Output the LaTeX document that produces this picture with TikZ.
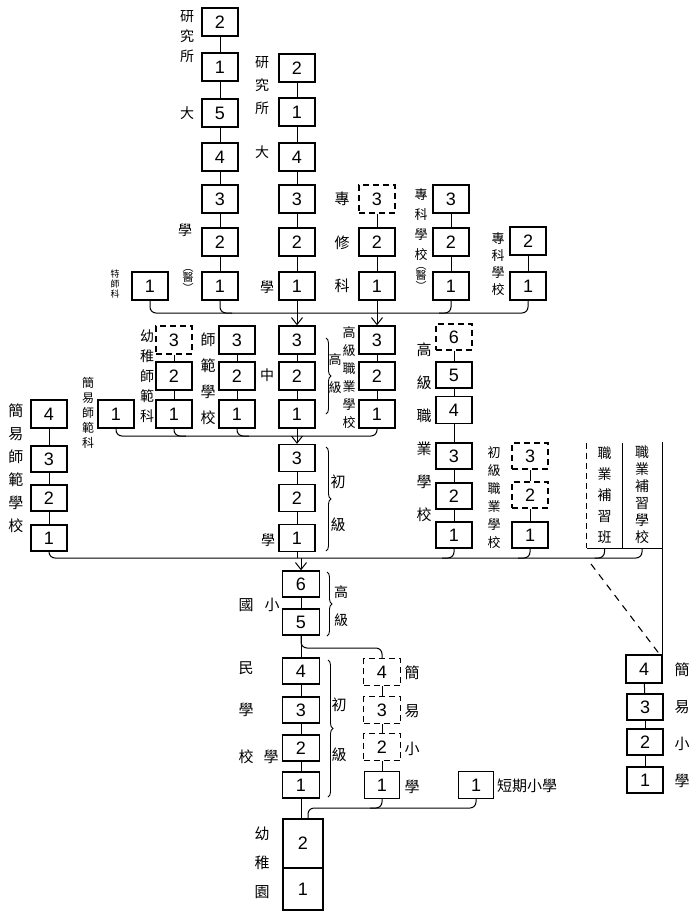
\documentclass[tikz,border=0pt]{standalone}
\usepackage{fontspec}
\setmainfont{Liberation Sans}
\newfontfamily\cjk{Noto Sans CJK TC}
\usetikzlibrary{arrows.meta,decorations.pathreplacing,calc}
\begin{document}
\begin{tikzpicture}[x=1pt,y=-1pt,
  bx/.style={draw, line width=1.3pt, minimum width=36pt, minimum height=28pt, inner sep=0pt, font=\fontsize{18}{18}\selectfont},
  dbx/.style={bx, dash pattern=on 6pt off 4pt},
  ln/.style={line width=1pt, rounded corners=6pt},
  arr/.style={line width=1pt, -{Straight Barb[length=7pt,width=11pt]}},
  lab/.style={font=\cjk\fontsize{#1}{#1}\selectfont, inner sep=0pt},
  vl/.style 2 args={align=center, inner sep=0pt, font=\cjk\fontsize{#1}{#2}\selectfont},
  brc/.style={decorate, decoration={brace, amplitude=5pt}, line width=0.9pt}
]
\useasboundingbox (0,0) rectangle (689,913);

% ---------------- top section ----------------
\node[bx] (ts) at (150,286) {1};
\node[bx] (a7) at (220,22) {2};
\node[bx] (a6) at (220,67) {1};
\node[bx] (a5) at (220,113) {5};
\node[bx] (a4) at (220,157) {4};
\node[bx] (a3) at (220,199) {3};
\node[bx] (a2) at (220,242) {2};
\node[bx] (a1) at (220,286) {1};
\node[bx] (b6) at (297,68) {2};
\node[bx] (b5) at (297,112) {1};
\node[bx] (b4) at (297,157) {4};
\node[bx] (b3) at (297,199) {3};
\node[bx] (b2) at (297,242) {2};
\node[bx] (b1) at (297,286) {1};
\node[dbx] (c3) at (377,199) {3};
\node[bx] (c2) at (377,242) {2};
\node[bx] (c1) at (377,286) {1};
\node[bx] (d3) at (451,199) {3};
\node[bx] (d2) at (451,242) {2};
\node[bx] (d1) at (451,286) {1};
\node[bx] (e2) at (528,241) {2};
\node[bx] (e1) at (528,286) {1};

\foreach \u/\v in {a7/a6,a6/a5,a5/a4,a4/a3,a3/a2,a2/a1,b6/b5,b5/b4,b4/b3,b3/b2,b2/b1,c3/c2,c2/c1,d3/d2,d2/d1,e2/e1}
  \draw[line width=1pt] (\u) -- (\v);

\node[vl={14}{20}] (la1) at (187,37) {研\\究\\所};
\node[lab=14] (la2) at (187,113) {大};
\node[lab=14] (la3) at (185,230) {學};
\node[vl={11}{10}] (la4) at (188,281) {︵\\醫\\︶};
\node[vl={14}{23}] (lb1) at (262,86) {研\\究\\所};
\node[lab=14] (lb2) at (262,152) {大};
\node[lab=14] (lb3) at (267,287) {學};
\node[vl={15}{43.5}] (lc) at (342,242.5) {專\\修\\科};
\node[vl={13}{20}] (ld1) at (421,225) {專\\科\\學\\校};
\node[vl={11}{10}] (ld2) at (421,279) {︵\\醫\\︶};
\node[vl={13}{17}] (le) at (498,264) {專\\科\\學\\校};
\node[vl={9}{10}] (lts) at (115,284) {特\\師\\科};

\coordinate (L1) at (0,313);
\draw[ln] (ts.south) -- (ts.south |- L1) -- (e1.south |- L1) -- (e1.south);
\draw[ln] (a1.south) -- (a1.south |- L1) -- ($(a1.south |- L1)+(12,0)$);
\draw[ln] (d1.south) -- (d1.south |- L1) -- ($(d1.south |- L1)+(-12,0)$);

% ---------------- middle section ----------------
\node[bx] (js) at (116,414) {1};
\node[dbx] (yz3) at (174,340) {3};
\node[bx] (yz2) at (174,376) {2};
\node[bx] (yz1) at (174,414) {1};
\node[bx] (sf3) at (237,340) {3};
\node[bx] (sf2) at (237,376) {2};
\node[bx] (sf1) at (237,414) {1};
\node[bx] (f3) at (297,340) {3};
\node[bx] (f2) at (297,376) {2};
\node[bx] (f1) at (297,414) {1};
\node[bx] (g3) at (377,340) {3};
\node[bx] (g2) at (377,376) {2};
\node[bx] (g1) at (377,414) {1};

\draw[arr] (b1.south) -- (f3.north);
\draw[arr] (c1.south) -- (g3.north);

\foreach \u/\v in {yz3/yz2,yz2/yz1,sf3/sf2,sf2/sf1,f3/f2,f2/f1,g3/g2,g2/g1}
  \draw[line width=1pt] (\u) -- (\v);

\node[vl={12}{15}] (ljs) at (88,413) {簡\\易\\師\\範\\科};
\node[vl={14}{20}] (lyz) at (147,376) {幼\\稚\\師\\範\\科};
\node[vl={15}{26}] (lsf) at (208,379) {師\\範\\學\\校};
\node[lab=14] (lzh) at (267,375) {中};
\draw[brc] (326,338) -- (326,414);
\node[vl={13}{28}] (lgj1) at (335,374) {高\\級};
\node[vl={13}{18}] (lg) at (349,378) {高\\級\\職\\業\\學\\校};

\coordinate (L2) at (0,436);
\draw[ln] (js.south) -- (js.south |- L2) -- (g1.south |- L2) -- (g1.south);
\draw[ln] (yz1.south) -- (yz1.south |- L2) -- ($(yz1.south |- L2)+(12,0)$);
\draw[ln] (sf1.south) -- (sf1.south |- L2) -- ($(sf1.south |- L2)+(12,0)$);

% junior
\node[bx, minimum height=27pt] (j3) at (297,458) {3};
\node[bx, minimum height=27pt] (j2) at (297,498) {2};
\node[bx, minimum height=27pt] (j1) at (297,538) {1};
\draw[arr] (f1.south) -- (j3.north);
\draw[line width=1pt] (j3) -- (j2);
\draw[line width=1pt] (j2) -- (j1);
\draw[brc] (326,447) -- (326,551);
\node[vl={15}{43}] (lcj) at (338,503) {初\\級};
\node[lab=14] (lxue) at (268,540) {學};

% left column
\node[bx] (jf4) at (49,414) {4};
\node[bx, minimum height=26pt] (jf3) at (49,459) {3};
\node[bx, minimum height=26pt] (jf2) at (49,498) {2};
\node[bx, minimum height=26pt] (jf1) at (49,538) {1};
\foreach \u/\v in {jf4/jf3,jf3/jf2,jf2/jf1} \draw[line width=1pt] (\u) -- (\v);
\node[vl={15}{23}] (ljf) at (16,468) {簡\\易\\師\\範\\學\\校};

% H column
\node[dbx, minimum height=26pt] (h6) at (454,337) {6};
\node[bx, minimum height=26pt] (h5) at (454,375) {5};
\node[bx, minimum height=27pt] (h4) at (454,410) {4};
\node[bx, minimum height=26pt] (h3) at (454,456) {3};
\node[bx, minimum height=26pt] (h2) at (454,496) {2};
\node[bx, minimum height=26pt] (h1) at (454,535) {1};
\foreach \u/\v in {h6/h5,h5/h4,h4/h3,h3/h2,h2/h1} \draw[line width=1pt] (\u) -- (\v);
\node[vl={15}{33}] (lh) at (424,432) {高\\級\\職\\業\\學\\校};

% I column
\node[dbx, minimum height=26pt] (i3) at (530,456) {3};
\node[dbx, minimum height=26pt] (i2) at (530,495) {2};
\node[bx, minimum height=26pt] (i1) at (530,535) {1};
\draw[line width=1pt] (i3) -- (i2);
\draw[line width=1pt] (i2) -- (i1);
\node[vl={13}{18}] (li) at (494,498) {初\\級\\職\\業\\學\\校};

% continuation schools
\node[vl={14}{21}, minimum width=35pt, minimum height=105pt] (zb) at (604.5,495.5) {職\\業\\補\\習\\班};
\node[vl={14}{17}, minimum width=40pt, minimum height=106pt] (zx) at (642,495) {職\\業\\補\\習\\學\\校};
\draw[line width=1.2pt, dash pattern=on 6pt off 4pt] (zb.north west) -- (zb.south west);
\draw[line width=1.2pt] (zb.south west) -- (zb.south east);
\draw[line width=1.2pt] (zb.north east) -- (zb.south east) -- (zx.south east);

\coordinate (L3) at (0,558);
\draw[ln] (jf1.south) -- (jf1.south |- L3) -- (zx.south |- L3) -- (zx.south);
\draw[ln] (h1.south) -- (h1.south |- L3) -- ($(h1.south |- L3)+(-12,0)$);
\draw[ln] (i1.south) -- (i1.south |- L3) -- ($(i1.south |- L3)+(-12,0)$);
\draw[ln] (zb.south) -- (zb.south |- L3) -- ($(zb.south |- L3)+(-10,0)$);

% ---------------- lower section ----------------
\node[bx, minimum height=26pt, minimum width=37pt] (p6) at (301,584) {6};
\node[bx, minimum height=26pt, minimum width=37pt] (p5) at (301,622) {5};
\node[bx, minimum height=26pt, minimum width=37pt] (p4) at (301,671) {4};
\node[bx, minimum height=26pt, minimum width=37pt] (p3) at (301,710) {3};
\node[bx, minimum height=26pt, minimum width=37pt] (p2) at (301,748) {2};
\node[bx, minimum height=26pt, minimum width=37pt] (p1) at (301,785) {1};
\draw[line width=1pt] (j1.south) -- (j1.south |- L3);
\draw[arr] (p6.north |- L3) -- (p6.north);
\foreach \u/\v in {p6/p5,p5/p4,p4/p3,p3/p2,p2/p1} \draw[line width=1pt] (\u) -- (\v);
\draw[brc] (327,572) -- (327,636);
\node[vl={14}{28}] (lgj2) at (341,606) {高\\級};
\draw[brc] (328,660) -- (328,797);
\node[vl={15}{50}] (lcj2) at (339,730) {初\\級};
\node[lab=15] (lg1) at (246,605) {國};
\node[lab=15] (lg2) at (272,605) {小};
\node[lab=15] (lg3) at (246,668) {民};
\node[lab=15] (lg4) at (246,710) {學};
\node[lab=15] (lg5) at (246,757) {校};
\node[lab=15] (lg6) at (271,757) {學};

\node[dbx, minimum height=27pt, minimum width=37pt] (s4) at (382,672) {4};
\node[dbx, minimum height=27pt, minimum width=37pt] (s3) at (382,710) {3};
\node[dbx, minimum height=27pt, minimum width=37pt] (s2) at (382,747) {2};
\node[bx, minimum height=27pt, minimum width=35pt] (s1) at (382,785) {1};
\foreach \u/\v in {s4/s3,s3/s2,s2/s1} \draw[line width=1pt] (\u) -- (\v);
\coordinate (B5) at (301,648);
\draw[ln] (p5.south) -- (B5) -| (s4.north);
\node[vl={15}{38}] (ls) at (412,729.5) {簡\\易\\小\\學};

\node[bx, minimum height=27pt, minimum width=35pt] (dq) at (476,785) {1};
\node[lab=15, anchor=west] (ldq) at (497,786) {短期小學};

\node[draw, line width=1.3pt, minimum width=40pt, minimum height=49pt, inner sep=0pt, font=\fontsize{18}{18}\selectfont] (yy2) at (303,843.5) {2};
\node[draw, line width=1.3pt, minimum width=40pt, minimum height=42pt, inner sep=0pt, font=\fontsize{18}{18}\selectfont] (yy1) at (303,889) {1};
\node[vl={15}{29}] (lyy) at (262,863) {幼\\稚\\園};

\coordinate (L4) at (0,808);
\draw[line width=1pt] (p1.south) -- (p1.south |- yy2.north);
\draw[ln] (dq.south) -- (dq.south |- L4) -- ($(yy2.north |- L4)+(5,0)$) -- ($(yy2.north)+(5,0)$);
\draw[ln] (s1.south) -- (s1.south |- L4) -- ($(s1.south |- L4)+(-12,0)$);

% right column
\node[bx, minimum height=28pt] (r4) at (644,669) {4};
\node[bx, minimum height=26pt] (r3) at (645,707) {3};
\node[bx, minimum height=26pt] (r2) at (645,742) {2};
\node[bx, minimum height=26pt] (r1) at (645,780) {1};
\foreach \u/\v in {r4/r3,r3/r2,r2/r1} \draw[line width=1pt] (\u) -- (\v);
\node[vl={15}{37}] (lr) at (682,725) {簡\\易\\小\\學};
\draw[line width=1.2pt] (zx.north east) -- (zx.north east |- r4.north);
\coordinate (dd) at (591,564);
\draw[line width=1.1pt, dash pattern=on 7pt off 6pt] (dd) -- ($(r4.north east)+(-3,0)$);
\end{tikzpicture}
\end{document}
